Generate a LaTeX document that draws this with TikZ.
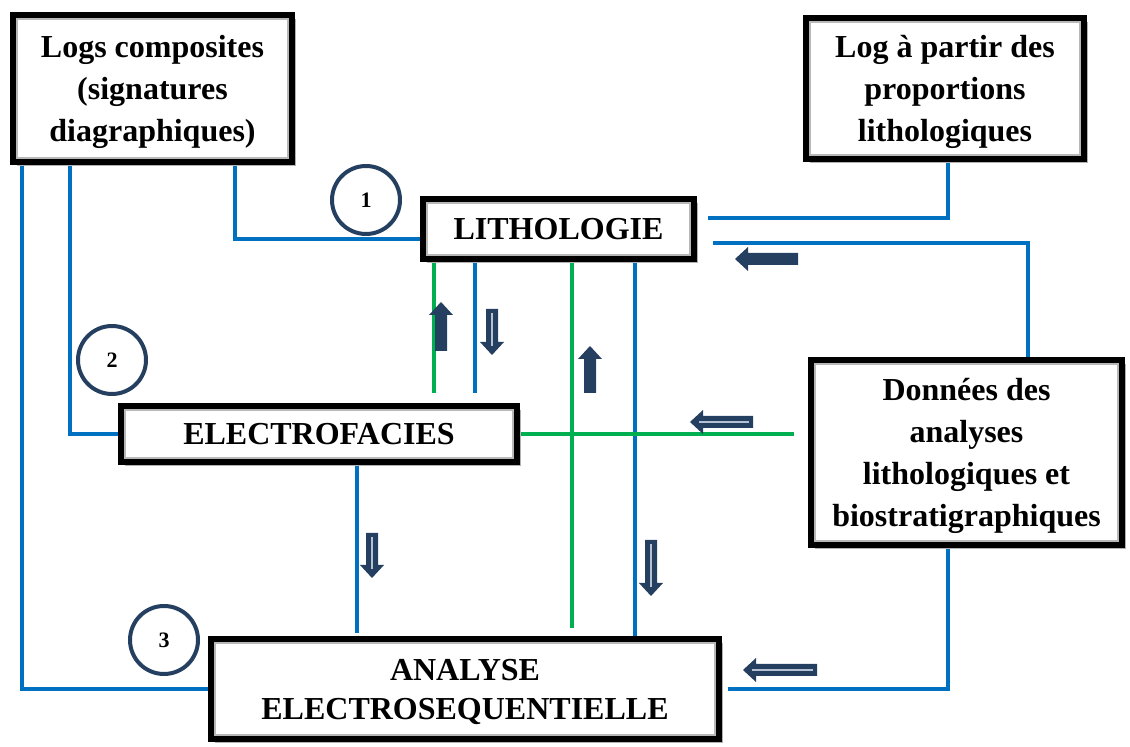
\documentclass[tikz,border=0pt]{standalone}
\usepackage{fontspec}
\setmainfont{Liberation Serif}
\usetikzlibrary{shadows,backgrounds}

\definecolor{bleu}{HTML}{0070C0}
\definecolor{vert}{HTML}{00B050}
\definecolor{marine}{HTML}{243F60}
\definecolor{clair}{HTML}{B4C0D4}

\tikzset{
  boite/.style={draw=black, line width=3pt, fill=white, align=center, inner sep=0pt,
    font=\fontsize{16}{21}\selectfont\bfseries,
    drop shadow={shadow xshift=2pt, shadow yshift=-2pt, fill=black!30, opacity=1},
    path picture={\draw[black!28, line width=5pt] (path picture bounding box.south west) rectangle (path picture bounding box.north east);}},
  rond/.style={circle, draw=marine, line width=2pt, fill=white, minimum size=34pt,
    inner sep=0pt, font=\fontsize{11}{13}\selectfont\bfseries},
  lien/.style={bleu, line width=2pt},
  lienvert/.style={vert, line width=2pt},
  pics/bloc/.style={code={
    \fill[marine] (0,-6) -- (#1-13,-6) -- (#1-13,-12) -- (#1,0) -- (#1-13,12) -- (#1-13,6) -- (0,6) -- cycle;}},
  pics/blocd/.style={code={
    \fill[marine] (0,-6) -- (#1-13,-6) -- (#1-13,-12) -- (#1,0) -- (#1-13,12) -- (#1-13,6) -- (0,6) -- cycle;
    \draw[clair, line width=0.6pt] (4,0) -- (#1-9,0);}}
}

\begin{document}
\begin{tikzpicture}[x=0.5pt, y=-0.5pt]
  \useasboundingbox (0,0) rectangle (1130,747);

  % boites
  \node[boite, minimum width=139.5pt, minimum height=73.5pt, text depth=0pt] (logs) at (152.5,88.5)
    {Logs composites\\(signatures\\diagraphiques)};
  \node[boite, minimum width=139pt, minimum height=70.5pt, text depth=-3.5pt] (prop) at (945,88.5)
    {Log à partir des\\proportions\\lithologiques};
  \node[boite, minimum width=135.5pt, minimum height=30pt] (litho) at (558.5,229) {LITHOLOGIE};
  \node[boite, minimum width=198pt, minimum height=28pt] (facies) at (319,434) {ELECTROFACIES};
  \node[boite, minimum width=155.5pt, minimum height=92.5pt, text depth=-2.5pt] (donnees) at (966.5,452.5)
    {Données des\\analyses\\lithologiques et\\biostratigraphiques};
  \node[boite, minimum width=254pt, minimum height=50pt, text depth=-3.5pt,
    font=\fontsize{16}{19.5}\selectfont\bfseries] (analyse) at (465,689)
    {ANALYSE\\ELECTROSEQUENTIELLE};

  % reperes des liaisons
  \coordinate (k1) at (235,239);
  \coordinate (k2) at (70,0);
  \coordinate (k3) at (22,0);
  \coordinate (k4) at (708,218);
  \coordinate (k5) at (713,243);
  \coordinate (k6) at (1028,0);
  \coordinate (k7) at (475,0);
  \coordinate (k8) at (635,0);
  \coordinate (k9) at (357,0);
  \coordinate (k10) at (948,0);
  \coordinate (k11) at (728,0);
  \coordinate (g1) at (434,0);
  \coordinate (g2) at (572,0);

  \begin{scope}[on background layer]
    \draw[lien] (logs.south -| k1) |- (litho.west |- k1);
    \draw[lien] (logs.south -| k2) |- (facies.west);
    \draw[lien] (logs.south -| k3) |- (analyse.west);
    \draw[lien] (k4) -| (prop.south -| k10);
    \draw[lien] (k5) -| (donnees.north -| k6);
    \draw[lien, shorten >=5pt] (litho.south -| k7) -- (facies.north -| k7);
    \draw[lien] (litho.south -| k8) -- (analyse.north -| k8);
    \draw[lien, shorten >=1.5pt] (facies.south -| k9) -- (analyse.north -| k9);
    \draw[lien] (donnees.south -| k10) |- (analyse.east -| k11);
    \draw[lienvert, shorten >=5pt] (litho.south -| g1) -- (facies.north -| g1);
    \draw[lienvert, shorten >=4pt] (litho.south -| g2) -- (analyse.north -| g2);
    \draw[lienvert, shorten >=7pt] (facies.east) -- (donnees.west |- facies.east);
  \end{scope}

  % numeros
  \node[rond] (n1) at (366,200) {1};
  \node[rond] (n2) at (112,360) {2};
  \node[rond] (n3) at (164,640) {3};

  % fleches
  \pic[rotate=90] (f1) at (441,351) {bloc=49};
  \pic[rotate=-90] (f2) at (492,309) {blocd=46};
  \pic[rotate=180] (f3) at (798,259) {bloc=63};
  \pic[rotate=90] (f4) at (590,393) {bloc=47};
  \pic[rotate=180] (f5) at (753,422) {blocd=63};
  \pic[rotate=-90] (f6) at (372,533) {blocd=45};
  \pic[rotate=-90] (f7) at (651,540) {blocd=56};
  \pic[rotate=180] (f8) at (817,670) {blocd=74};
\end{tikzpicture}
\end{document}
